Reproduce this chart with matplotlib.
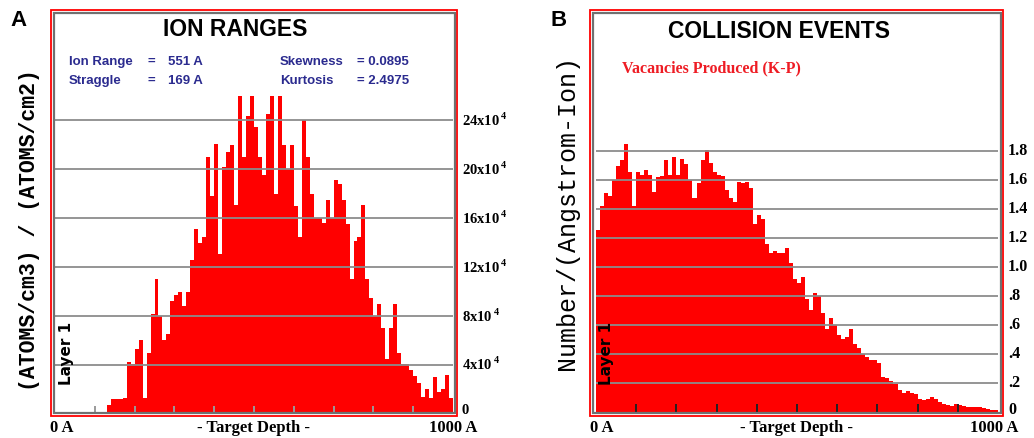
import numpy as np
import matplotlib
matplotlib.use('Agg')
import matplotlib.pyplot as plt
from matplotlib.patches import Rectangle
from matplotlib import transforms

plt.rcParams['font.family'] = ['Liberation Sans', 'DejaVu Sans']
plt.rcParams['mathtext.fontset'] = 'custom'
plt.rcParams['mathtext.bf'] = 'Liberation Serif:bold'
plt.rcParams['mathtext.rm'] = 'Liberation Serif:bold'

# ---------------------------- data -------------------------------------------
# 100 depth bins of 10 A each, 0 - 1000 A
bin_width = 10
depth = np.arange(0, 1000, bin_width)

# ion ranges, (atoms/cm3)/(atoms/cm2) in units of 1e4
ion_counts = [0, 0, 0, 0, 0, 0, 0, 0, 0, 0,
              0, 0, 0, 0.7, 1.2, 1.2, 1.2, 1.3, 4.2, 4.1,
              5.3, 6.0, 1.3, 5.0, 8.2, 11.0, 8.0, 6.0, 6.5, 9.2,
              9.7, 10.0, 8.8, 10.0, 12.6, 15.1, 14.0, 14.5, 21.0, 17.8,
              22.1, 13.1, 20.2, 21.4, 22.0, 17.1, 26.5, 21.0, 24.4, 26.5,
              23.5, 21.0, 19.5, 24.5, 26.5, 18.0, 26.5, 22.0, 20.0, 22.0,
              17.0, 14.5, 24.0, 21.0, 18.0, 16.0, 16.0, 15.6, 17.5, 16.0,
              19.1, 18.8, 17.5, 15.5, 11.0, 14.1, 14.5, 17.1, 11.0, 9.5,
              8.0, 9.0, 7.0, 4.5, 7.0, 9.0, 5.0, 4.1, 4.1, 3.6,
              3.1, 2.5, 1.4, 2.0, 1.3, 3.0, 1.8, 2.0, 3.2, 1.3]

# vacancies produced (K-P), number/(angstrom-ion)
vac_counts = [1.26, 1.42, 1.51, 1.49, 1.60, 1.70, 1.74, 1.85, 1.66, 1.42,
              1.66, 1.64, 1.67, 1.64, 1.52, 1.62, 1.63, 1.74, 1.64, 1.76,
              1.64, 1.75, 1.71, 1.60, 1.48, 1.58, 1.74, 1.81, 1.72, 1.66,
              1.64, 1.63, 1.53, 1.48, 1.45, 1.59, 1.58, 1.59, 1.55, 1.30,
              1.36, 1.33, 1.16, 1.10, 1.11, 1.10, 1.10, 1.13, 1.03, 0.92,
              0.89, 0.93, 0.78, 0.70, 0.82, 0.80, 0.68, 0.57, 0.65, 0.60,
              0.53, 0.50, 0.52, 0.57, 0.47, 0.44, 0.40, 0.38, 0.36, 0.36,
              0.34, 0.24, 0.23, 0.21, 0.19, 0.15, 0.13, 0.14, 0.13, 0.12,
              0.09, 0.08, 0.09, 0.10, 0.085, 0.065, 0.05, 0.046, 0.04, 0.05,
              0.045, 0.04, 0.035, 0.035, 0.035, 0.035, 0.025, 0.02, 0.012, 0.01]

ion_grid = [4, 8, 12, 16, 20, 24]
ion_tick_labels = ['4x10', '8x10', '12x10', '16x10', '20x10', '24x10']
vac_grid = [0.2, 0.4, 0.6, 0.8, 1.0, 1.2, 1.4, 1.6, 1.8]
vac_tick_labels = ['.2', '.4', '.6', '.8', '1.0', '1.2', '1.4', '1.6', '1.8']

ion_stats = [('Ion Range', '551 A'), ('Straggle', '169 A')]
shape_stats = [('Skewness', '= 0.0895'), ('Kurtosis', '= 2.4975')]

# ---------------------------- layout -----------------------------------------
W, H = 1034, 438
fig = plt.figure(figsize=(W / 100, H / 100), dpi=100)

RED = '#ff0000'
GRID = '#8c8c8c'
NAVY = '#2b2b8f'


def add_axes_px(l, t, r, b):
    return fig.add_axes([l / W, 1 - b / H, (r - l) / W, (b - t) / H])


def text_px(x, y, s, **kw):
    return fig.text(x / W, 1 - y / H, s, **kw)


def frame_px(l, t, r, b, color, lw):
    fig.add_artist(Rectangle((l / W, 1 - b / H), (r - l) / W, (b - t) / H,
                             transform=fig.transFigure, fill=False,
                             ec=color, lw=lw, zorder=5))


def panel(ax, values, grid, ymax, tick_color):
    ax.bar(depth, values, width=bin_width, align='edge', color=RED, lw=0, zorder=1)
    for v in grid:
        ax.axhline(v, color=GRID, lw=1.3, zorder=3)
    ax.set_xlim(0, 1000)
    ax.set_ylim(0, ymax)
    ax.set_xticks(range(100, 1000, 100))
    ax.set_yticks([])
    ax.tick_params(axis='x', direction='in', length=6, width=1.4,
                   color=tick_color, labelbottom=False)
    for s in ax.spines.values():
        s.set_visible(False)


# ---------------------------- A: ion ranges ----------------------------------
axA = add_axes_px(55, 96, 453, 413.7)
panel(axA, ion_counts, ion_grid, 26, '#9a9a9a')
frame_px(51, 10, 457, 415.5, RED, 1.3)
frame_px(53.5, 12.5, 454.5, 413, '#707070', 1.6)

trA = transforms.blended_transform_factory(fig.transFigure, axA.transData)
for v, lab in zip(ion_grid, ion_tick_labels):
    axA.text(462 / W, v, r'$\mathbf{%s}^{\,\mathbf{4}}$' % lab, transform=trA,
             fontsize=10.5, va='center', ha='left')
axA.text(462 / W, 0.3, '0', transform=trA, fontsize=10.5, va='center',
         ha='left', family='Liberation Serif', weight='bold')

text_px(10, 20, 'A', fontsize=16, weight='bold', va='center', ha='left')
text_px(235, 30, 'ION RANGES', fontsize=16.5, weight='bold', va='center', ha='center')
for i, (name, val) in enumerate(ion_stats):
    y = 62 + 19 * i
    text_px(69, y, name, fontsize=9.5, weight='bold', color=NAVY, va='center')
    text_px(148, y, '=', fontsize=9.5, weight='bold', color=NAVY, va='center')
    text_px(168, y, val, fontsize=9.5, weight='bold', color=NAVY, va='center')
for i, (name, val) in enumerate(shape_stats):
    y = 62 + 19 * i
    text_px(280, y, name, fontsize=9.5, weight='bold', color=NAVY, va='center')
    text_px(357, y, val, fontsize=9.5, weight='bold', color=NAVY, va='center')

text_px(30, 230, '(ATOMS/cm3) / (ATOMS/cm2)', fontsize=15.5, weight='bold',
        family='Liberation Mono', rotation=90, va='center', ha='center')
text_px(66, 353, 'Layer 1', fontsize=11, weight='bold', family='DejaVu Sans',
        rotation=90, va='center', ha='center')

text_px(50, 428, '0 A', fontsize=12, weight='bold', family='Liberation Serif',
        va='center', ha='left')
text_px(254, 428, '- Target Depth -', fontsize=12, weight='bold',
        family='Liberation Serif', va='center', ha='center')
text_px(477, 428, '1000 A', fontsize=12, weight='bold', family='Liberation Serif',
        va='center', ha='right')

# ---------------------------- B: collision events ----------------------------
axB = add_axes_px(596, 137, 998, 411.7)
panel(axB, vac_counts, vac_grid, 1.9, '#222222')
frame_px(590, 10, 1003, 415.5, RED, 1.3)
frame_px(592.5, 12.5, 1000.5, 413, '#707070', 1.6)

trB = transforms.blended_transform_factory(fig.transFigure, axB.transData)
for v, lab in zip(vac_grid, vac_tick_labels):
    axB.text(1008 / W, v, lab, transform=trB, fontsize=11.5, va='center',
             ha='left', family='Liberation Serif', weight='bold')
axB.text(1008 / W, 0.01, '0', transform=trB, fontsize=11.5, va='center',
         ha='left', family='Liberation Serif', weight='bold')

text_px(550, 20, 'B', fontsize=16, weight='bold', va='center', ha='left')
text_px(779, 31, 'COLLISION EVENTS', fontsize=16.5, weight='bold',
        va='center', ha='center')
text_px(622, 68, 'Vacancies Produced (K-P)', fontsize=11.5, weight='bold',
        family='Liberation Serif', color='#ee1c24', va='center', ha='left')

text_px(567, 212, 'Number/(Angstrom-Ion)', fontsize=18, family='Liberation Mono',
        rotation=90, va='center', ha='center')
text_px(606, 353, 'Layer 1', fontsize=11, weight='bold', family='DejaVu Sans',
        rotation=90, va='center', ha='center')

text_px(590, 428, '0 A', fontsize=12, weight='bold', family='Liberation Serif',
        va='center', ha='left')
text_px(797, 428, '- Target Depth -', fontsize=12, weight='bold',
        family='Liberation Serif', va='center', ha='center')
text_px(1018, 428, '1000 A', fontsize=12, weight='bold', family='Liberation Serif',
        va='center', ha='right')

fig.savefig('out.png', dpi=100)
